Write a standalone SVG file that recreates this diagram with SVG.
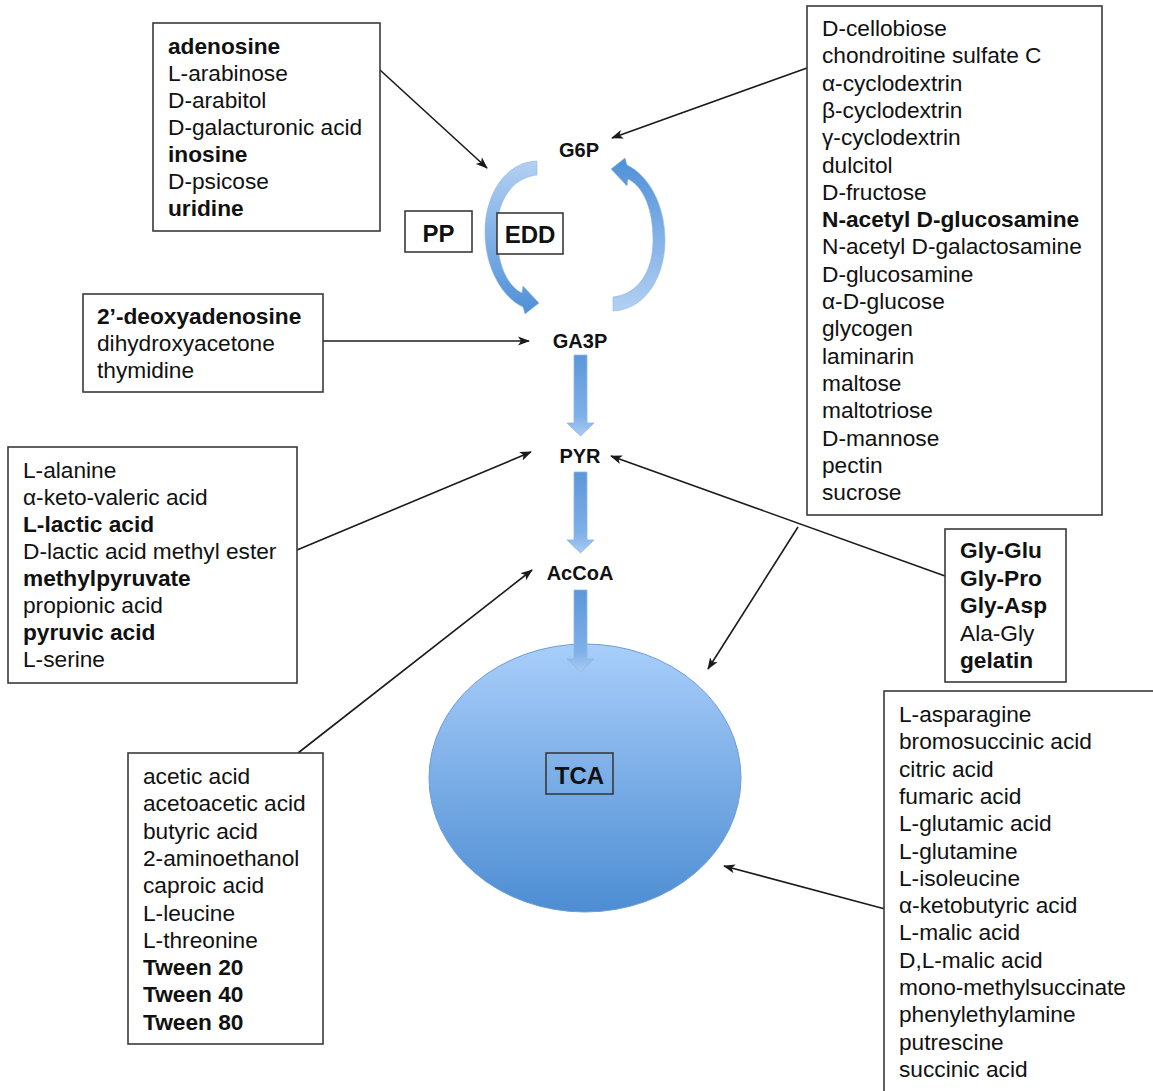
<svg xmlns="http://www.w3.org/2000/svg" width="1153" height="1091" viewBox="0 0 1153 1091">
<style>
.box{fill:#fff;stroke:#3a3a3a;stroke-width:1.6}
.t{font-family:"Liberation Sans",Arial,sans-serif;font-size:22.7px;fill:#111}
.b{font-weight:bold}
.node{font-family:"Liberation Sans",Arial,sans-serif;font-size:20px;font-weight:bold;fill:#111;text-anchor:middle}
.big{font-family:"Liberation Sans",Arial,sans-serif;font-size:24px;font-weight:bold;fill:#111;text-anchor:middle}
.con{fill:none;stroke:#1a1a1a;stroke-width:1.6;marker-end:url(#ah)}
.blk{fill:url(#gBlk);stroke:#8db7e6;stroke-width:0.8}
.crs{fill:url(#gCrs);stroke:#8fb8e6;stroke-width:0.6}
</style>
<defs>
<marker id="ah" viewBox="0 0 12 10" refX="11" refY="5" markerWidth="12" markerHeight="10" markerUnits="userSpaceOnUse" orient="auto">
<path d="M0,0.5 L12,5 L0,9.5 L3,5 Z" fill="#1a1a1a"/>
</marker>
<linearGradient id="gBlk" x1="0" y1="0" x2="0" y2="1">
<stop offset="0" stop-color="#5c97d9"/>
<stop offset="0.75" stop-color="#7fb0e8"/>
<stop offset="1" stop-color="#a9cbf2"/>
</linearGradient>
<linearGradient id="gCrs" x1="0" y1="0" x2="0" y2="1">
<stop offset="0" stop-color="#b3d0f2"/>
<stop offset="0.5" stop-color="#80b0e6"/>
<stop offset="1" stop-color="#4f8fd6"/>
</linearGradient>
<linearGradient id="gTca" x1="0" y1="0" x2="0" y2="1">
<stop offset="0" stop-color="#a9cefa"/>
<stop offset="1" stop-color="#4d8dd3"/>
</linearGradient>
</defs>

<g id="tca">
<ellipse cx="585" cy="778" rx="156" ry="134" fill="url(#gTca)" stroke="#6c9fd6" stroke-width="1"/>
<rect class="box" x="546" y="753" width="67" height="41" style="fill:none"/>
<text class="big" x="579.5" y="784">TCA</text>
</g>

<g id="pathway-arrows">
<path id="pp-arc" class="crs" d="M537 161 C505 162 485 195 485 232 C485 268 502 297 523 307 L525 314 L539 303 L523 286 L522 293 C506 285 497 262 497 232 C497 200 512 178 537 175 Z"/>
<path id="edd-arc" class="crs" transform="rotate(180 575 236)" d="M537 161 C505 162 485 195 485 232 C485 268 502 297 523 307 L525 314 L539 303 L523 286 L522 293 C506 285 497 262 497 232 C497 200 512 178 537 175 Z"/>
<path class="blk" d="M574 355 H587 V423 H594 L580.5 436 L567 423 H574 Z"/>
<path class="blk" d="M574 472 H587 V540 H594 L580.5 553 L567 540 H574 Z"/>
<path class="blk" d="M574 590 H587 V659 H594 L580.5 672 L567 659 H574 Z"/>
</g>

<g id="connectors">
<line class="con" x1="380" y1="70" x2="487" y2="168"/>
<line class="con" x1="807" y1="68" x2="612" y2="138"/>
<line class="con" x1="314" y1="341" x2="529" y2="341"/>
<line class="con" x1="297" y1="550" x2="531" y2="452"/>
<line class="con" x1="298" y1="753" x2="532" y2="570"/>
<line class="con" x1="945" y1="576" x2="611" y2="456"/>
<line class="con" x1="798" y1="527" x2="708" y2="669"/>
<line class="con" x1="885" y1="909" x2="724" y2="866"/>
</g>

<g id="node-g6p"><text class="node" x="579" y="157">G6P</text></g>
<g id="node-ga3p"><text class="node" x="580" y="348">GA3P</text></g>
<g id="node-pyr"><text class="node" x="580" y="463">PYR</text></g>
<g id="node-accoa"><text class="node" x="580" y="580">AcCoA</text></g>

<g id="pp"><rect class="box" x="405" y="211" width="67" height="41"/><text class="big" x="438.5" y="242">PP</text></g>
<g id="edd"><rect class="box" x="497" y="213" width="66" height="41"/><text class="big" x="530" y="243">EDD</text></g>

<g id="box-g6p-left">
<rect class="box" x="153" y="23" width="227" height="208"/>
<text class="t"><tspan x="168" y="54" class="b">adenosine</tspan><tspan x="168" y="81">L-arabinose</tspan><tspan x="168" y="108">D-arabitol</tspan><tspan x="168" y="135">D-galacturonic acid</tspan><tspan x="168" y="162" class="b">inosine</tspan><tspan x="168" y="189">D-psicose</tspan><tspan x="168" y="216" class="b">uridine</tspan></text>
</g>

<g id="box-g6p-right">
<rect class="box" x="807" y="6" width="295" height="509"/>
<text class="t"><tspan x="822" y="36">D-cellobiose</tspan><tspan x="822" y="63.3">chondroitine sulfate C</tspan><tspan x="822" y="90.6">α-cyclodextrin</tspan><tspan x="822" y="117.9">β-cyclodextrin</tspan><tspan x="822" y="145.2">γ-cyclodextrin</tspan><tspan x="822" y="172.5">dulcitol</tspan><tspan x="822" y="199.8">D-fructose</tspan><tspan x="822" y="227.1" class="b">N-acetyl D-glucosamine</tspan><tspan x="822" y="254.4">N-acetyl D-galactosamine</tspan><tspan x="822" y="281.7">D-glucosamine</tspan><tspan x="822" y="309">α-D-glucose</tspan><tspan x="822" y="336.3">glycogen</tspan><tspan x="822" y="363.6">laminarin</tspan><tspan x="822" y="390.9">maltose</tspan><tspan x="822" y="418.2">maltotriose</tspan><tspan x="822" y="445.5">D-mannose</tspan><tspan x="822" y="472.8">pectin</tspan><tspan x="822" y="500.1">sucrose</tspan></text>
</g>

<g id="box-ga3p">
<rect class="box" x="83" y="294" width="240" height="98"/>
<text class="t"><tspan x="97" y="324" class="b">2’-deoxyadenosine</tspan><tspan x="97" y="351">dihydroxyacetone</tspan><tspan x="97" y="378">thymidine</tspan></text>
</g>

<g id="box-pyr">
<rect class="box" x="8" y="447" width="289" height="236"/>
<text class="t"><tspan x="23" y="478">L-alanine</tspan><tspan x="23" y="505">α-keto-valeric acid</tspan><tspan x="23" y="532" class="b">L-lactic acid</tspan><tspan x="23" y="559">D-lactic acid methyl ester</tspan><tspan x="23" y="586" class="b">methylpyruvate</tspan><tspan x="23" y="613">propionic acid</tspan><tspan x="23" y="640" class="b">pyruvic acid</tspan><tspan x="23" y="667">L-serine</tspan></text>
</g>

<g id="box-accoa">
<rect class="box" x="128" y="753" width="195" height="291"/>
<text class="t"><tspan x="143" y="784">acetic acid</tspan><tspan x="143" y="811.3">acetoacetic acid</tspan><tspan x="143" y="838.6">butyric acid</tspan><tspan x="143" y="865.9">2-aminoethanol</tspan><tspan x="143" y="893.2">caproic acid</tspan><tspan x="143" y="920.5">L-leucine</tspan><tspan x="143" y="947.8">L-threonine</tspan><tspan x="143" y="975.1" class="b">Tween 20</tspan><tspan x="143" y="1002.4" class="b">Tween 40</tspan><tspan x="143" y="1029.7" class="b">Tween 80</tspan></text>
</g>

<g id="box-dipeptides">
<rect class="box" x="945" y="529" width="121" height="153"/>
<text class="t"><tspan x="960" y="558" class="b">Gly-Glu</tspan><tspan x="960" y="585.5" class="b">Gly-Pro</tspan><tspan x="960" y="613" class="b">Gly-Asp</tspan><tspan x="960" y="640.5">Ala-Gly</tspan><tspan x="960" y="668" class="b">gelatin</tspan></text>
</g>

<g id="box-tca">
<rect class="box" x="884" y="691" width="300" height="420"/>
<text class="t"><tspan x="899" y="722">L-asparagine</tspan><tspan x="899" y="749.3">bromosuccinic acid</tspan><tspan x="899" y="776.6">citric acid</tspan><tspan x="899" y="803.9">fumaric acid</tspan><tspan x="899" y="831.2">L-glutamic acid</tspan><tspan x="899" y="858.5">L-glutamine</tspan><tspan x="899" y="885.8">L-isoleucine</tspan><tspan x="899" y="913.1">α-ketobutyric acid</tspan><tspan x="899" y="940.4">L-malic acid</tspan><tspan x="899" y="967.7">D,L-malic acid</tspan><tspan x="899" y="995">mono-methylsuccinate</tspan><tspan x="899" y="1022.3">phenylethylamine</tspan><tspan x="899" y="1049.6">putrescine</tspan><tspan x="899" y="1076.9">succinic acid</tspan></text>
</g>
</svg>
